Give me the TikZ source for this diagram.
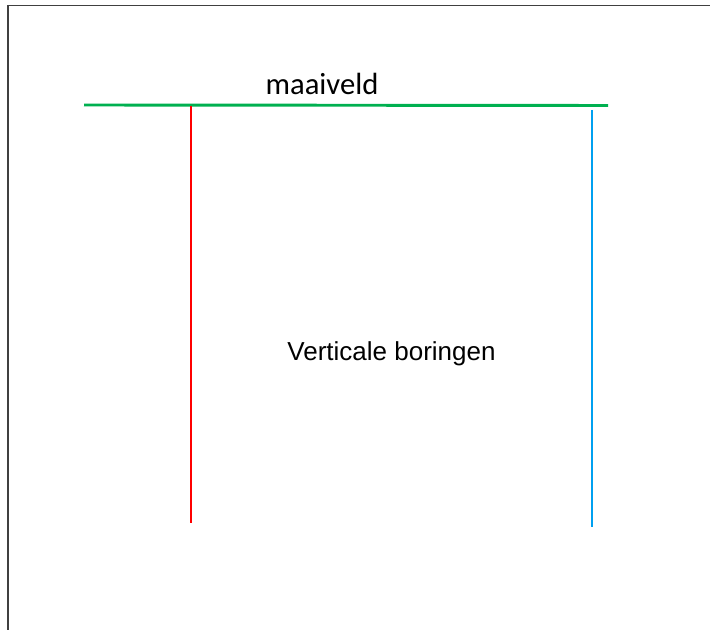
\documentclass[tikz,border=0pt]{standalone}
\usepackage{fontspec}
\newfontfamily\labelfont{Carlito}
\newfontfamily\bodyfont{Liberation Sans}
\definecolor{maaigreen}{RGB}{0,176,80}
\definecolor{boorred}{RGB}{255,0,0}
\definecolor{boorblue}{RGB}{0,160,240}
\tikzset{
  boring/.style={line width=2.2pt},
  frameline/.style={draw=black!75}
}
\begin{document}
\begin{tikzpicture}[x=0.75pt,y=-0.75pt]
\useasboundingbox (0,0) rectangle (710,630);

%%%Frame
\draw[frameline,line width=1.1pt] (8,5.5) -- (710,5.5);
\draw[frameline,line width=0.8pt] (8,5) -- (8,630);

%%%Ground level and label
\coordinate (mvL) at (84,105);
\coordinate (mvR) at (608,105.5);
\draw[boring,draw=maaigreen] (mvL) -- (mvR);
\node[anchor=base,inner sep=0pt,font=\labelfont\fontsize{23}{27}\selectfont] (maaiveld) at (322,95) {maaiveld};

%%%Boreholes
\foreach \n/\x/\a/\b/\c in {red/191/106/523/boorred,blue/592/110/527/boorblue} {
  \coordinate (\n top) at (\x,\a);
  \coordinate (\n bot) at (\x,\b);
  \draw[boring,draw=\c] (\n top) -- (\n bot);
}

%%%Label
\node[anchor=base,inner sep=0pt,font=\bodyfont\fontsize{19.5}{23}\selectfont] (boringen) at (391.5,361) {Verticale boringen};

\end{tikzpicture}
\end{document}
